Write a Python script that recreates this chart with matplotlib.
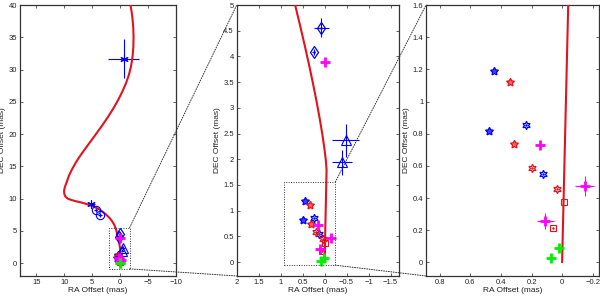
import matplotlib
matplotlib.use("Agg")
import matplotlib.pyplot as plt
from matplotlib.patches import ConnectionPatch, Rectangle

plt.rcParams['font.family'] = ['Liberation Sans', 'DejaVu Sans']

# orbit model curve (RA, DEC offsets in mas), digitised along its length
orbit_ra = [0, -0.0125, -0.025, -0.04, -0.045, -0.026, 0.003, 0.054, 0.113, 0.177, 0.258, 0.344,
            0.448, 0.557, 0.67, 0.85, 1.1, 1.45, 1.9, 2.5, 3.2, 4.0, 5.0, 6.0, 7.0, 8.0,
            8.8, 9.4, 9.8, 10.0, 10.05, 9.9, 9.6, 9.2, 8.65, 8.0, 7.27, 6.45, 5.35, 4.25, 3.17,
            2.15, 1.2, 0.35, -0.4, -1.05, -1.57, -1.95, -2.22, -2.36, -2.4, -2.35, -2.2, -2.05, -1.85]
orbit_dec = [0, 0.5, 1.0, 1.6, 1.8, 2.0, 2.2, 2.5, 2.8, 3.1, 3.45, 3.8,
             4.2, 4.6, 5.0, 5.5, 6.0, 6.5, 7.0, 7.5, 8.0, 8.45, 8.85, 9.15, 9.4, 9.6,
             9.8, 10.0, 10.3, 10.7, 11.2, 11.8, 12.5, 13.5, 14.5, 15.5, 16.5, 17.5, 18.8, 20.1, 21.4,
             22.7, 24.0, 25.3, 26.6, 27.9, 29.2, 30.5, 32.0, 33.5, 35.0, 36.5, 38.0, 39.0, 40.0]

# measurements
ast_ra = [-0.6, 5.3]; ast_dec = [31.7, 9.1]; ast_xe = [2.7, 0.8]; ast_ye = [3.0, 0.6]
circ_ra = [4.4, 3.6]; circ_dec = [8.2, 7.4]; circ_xe = [0.3, 0.3]; circ_ye = [0.3, 0.3]
dia_ra = [0.075, 0.25]; dia_dec = [4.56, 4.08]; dia_xe = [0.17, 0.04]; dia_ye = [0.18, 0.06]
tri_ra = [-0.48, -0.39]; tri_dec = [2.37, 1.94]; tri_xe = [0.31, 0.23]; tri_ye = [0.32, 0.24]
bpent_ra = [0.446, 0.48]; bpent_dec = [1.19, 0.816]
rpent_ra = [0.338, 0.316]; rpent_dec = [1.12, 0.737]
bhex_ra = [0.237, 0.123]; bhex_dec = [0.857, 0.548]
rhex_ra = [0.198, 0.035]; rhex_dec = [0.589, 0.459]
mag_ra = [0.0, 0.145, -0.147, 0.11]; mag_dec = [3.90, 0.727, 0.475, 0.258]
mag_xe = [0.02, 0.02, 0.063, 0.055]; mag_ye = [0.02, 0.02, 0.06, 0.05]
sq_ra = [-0.013, 0.059]; sq_dec = [0.378, 0.211]
grn_ra = [0.02, 0.073]; grn_dec = [0.087, 0.029]

limits = [((18, -10), (-2, 40)), ((2, -1.7), (-0.27, 5)), ((0.89, -0.24), (-0.085, 1.6))]
yticks = [list(range(0, 41, 5)), [i * 0.5 for i in range(11)], [i * 0.2 for i in range(9)]]
xticks = [[15, 10, 5, 0, -5, -10], [2, 1.5, 1, 0.5, 0, -0.5, -1, -1.5], [0.8, 0.6, 0.4, 0.2, 0, -0.2]]

fig = plt.figure(figsize=(6, 2.99), dpi=100)
pos = [[0.0328, 0.077, 0.2605, 0.906], [0.3945, 0.077, 0.271, 0.906], [0.71, 0.077, 0.288, 0.906]]
axes = [fig.add_axes(p) for p in pos]

hexm = (6, 1, 0)
pentm = (5, 1, 0)
astm = (6, 2, 0)

def lbl(v):
    s = ('%.1f' % v).rstrip('0').rstrip('.')
    if s in ('-0', ''):
        s = '0'
    return s.replace('-', '\u2212')

for i, ax in enumerate(axes):
    eb = dict(fmt='none', elinewidth=0.8, capsize=0)
    ax.errorbar(ast_ra, ast_dec, xerr=ast_xe, yerr=ast_ye, ecolor='blue', **eb)
    ax.errorbar(circ_ra, circ_dec, xerr=circ_xe, yerr=circ_ye, ecolor='blue', **eb)
    ax.errorbar(dia_ra, dia_dec, xerr=dia_xe, yerr=dia_ye, ecolor='blue', **eb)
    ax.errorbar(tri_ra, tri_dec, xerr=tri_xe, yerr=tri_ye, ecolor='blue', **eb)
    ax.errorbar(mag_ra, mag_dec, xerr=mag_xe, yerr=mag_ye, ecolor='magenta', **eb)
    ax.plot(orbit_ra, orbit_dec, color='#e0141e', lw=1.5, zorder=3,
            solid_joinstyle='round', solid_capstyle='round')
    ax.plot(ast_ra, ast_dec, ls='none', marker=astm, ms=6, mec='blue', mew=0.8, zorder=4)
    ax.plot(circ_ra, circ_dec, ls='none', marker='o', ms=6, mfc='none', mec='blue', mew=0.8, zorder=4)
    ax.plot(circ_ra, circ_dec, ls='none', marker='.', ms=1.5, color='blue', zorder=4)
    ax.plot(dia_ra, dia_dec, ls='none', marker='d', ms=6.5, mfc='none', mec='blue', mew=0.9, zorder=4)
    ax.plot(dia_ra, dia_dec, ls='none', marker='.', ms=1.5, color='blue', zorder=4)
    ax.plot(tri_ra, tri_dec, ls='none', marker='^', ms=7, mfc='none', mec='blue', mew=0.8, zorder=4)
    ax.plot(bpent_ra, bpent_dec, ls='none', marker=pentm, ms=6, mfc='#4040ff', mec='blue', mew=0.9, zorder=4)
    ax.plot(rpent_ra, rpent_dec, ls='none', marker=pentm, ms=6, mfc='#ff6060', mec='#e0141e', mew=0.9, zorder=4)
    ax.plot(bhex_ra, bhex_dec, ls='none', marker=hexm, ms=6, mfc='none', mec='blue', mew=0.9, zorder=4)
    ax.plot(bhex_ra, bhex_dec, ls='none', marker='.', ms=1.5, color='blue', zorder=4)
    ax.plot(rhex_ra, rhex_dec, ls='none', marker=hexm, ms=6, mfc='none', mec='#e0141e', mew=0.9, zorder=4)
    ax.plot(rhex_ra, rhex_dec, ls='none', marker='.', ms=1.5, color='#e0141e', zorder=4)
    ax.plot(mag_ra, mag_dec, ls='none', marker='+', ms=7, mec='magenta', mew=2, zorder=5)
    ax.plot(sq_ra, sq_dec, ls='none', marker='s', ms=5, mfc='none', mec='#e0141e', mew=0.8, zorder=4)
    ax.plot(sq_ra[1:], sq_dec[1:], ls='none', marker='.', ms=1.5, color='#e0141e', zorder=4)
    ax.plot(grn_ra, grn_dec, ls='none', marker='+', ms=7, mec='#00ee00', mew=2, zorder=5)

    ax.set_xlim(*limits[i][0])
    ax.set_ylim(*limits[i][1])
    ax.set_xticks(xticks[i])
    ax.set_xticklabels([lbl(v) for v in xticks[i]])
    ax.set_yticks(yticks[i])
    ax.set_yticklabels([lbl(v) for v in yticks[i]])
    ax.tick_params(direction='in', top=True, right=True, labelsize=5.5, length=2.5, width=0.5,
                   colors='#222222', pad=2)
    ax.set_xlabel('RA Offset (mas)', fontsize=6, labelpad=1, color='#222222')
    ax.set_ylabel('DEC Offset (mas)', fontsize=6, labelpad=2, color='#222222')
    for sp in ax.spines.values():
        sp.set_linewidth(0.9)
        sp.set_color('#333333')

# zoom boxes and connectors
boxes = [((2.0, -0.9), (-1.7, 5.5)), ((0.925, -0.06), (-0.243, 1.556))]
for k, ((x0, y0), (x1, y1)) in enumerate(boxes):
    src = axes[k]
    dst = axes[k + 1]
    src.add_patch(Rectangle((x0, y0), x1 - x0, y1 - y0, fill=False, ls=(0, (1, 1.5)),
                            lw=0.7, ec='#333333', zorder=6))
    tl = dst.get_xlim()[0], dst.get_ylim()[1]
    bl = dst.get_xlim()[0], dst.get_ylim()[0]
    for (sx, sy), (dx, dy) in [((x1, y1), tl), ((x1, y0), bl)]:
        cp = ConnectionPatch(xyA=(sx, sy), coordsA=src.transData, xyB=(dx, dy),
                             coordsB=dst.transData, ls=(0, (1, 1.5)), lw=0.7, color='#333333')
        fig.add_artist(cp)

fig.savefig('out.png', dpi=100)
